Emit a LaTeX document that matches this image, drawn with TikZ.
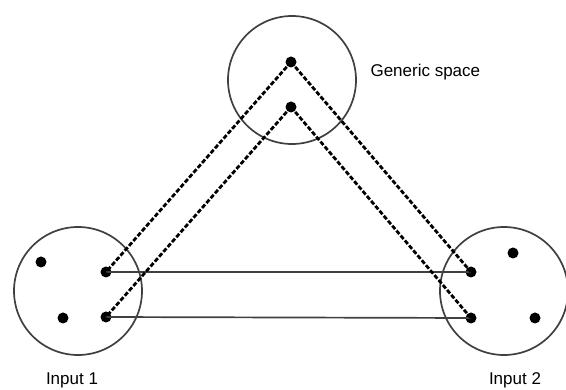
\documentclass[tikz,border=0pt]{standalone}
\usepackage{fontspec}
\setmainfont{Liberation Sans}
\usepackage{tikz}
\usetikzlibrary{positioning}

\begin{document}
\begin{tikzpicture}[x=1pt,y=-1pt,font=\fontsize{17}{19}\selectfont,
 sp/.style={draw=black!75,line width=1.7pt,circle,minimum size=128pt,inner sep=0pt},
 pt/.style={circle,fill=black,inner sep=0pt,minimum size=11pt},
 lk/.style={line width=2.8pt,dash pattern=on 4.5pt off 2pt},
 ln/.style={draw=black!75,line width=1.7pt}]
\useasboundingbox (0,0) rectangle (566,390);
\node[sp](g) at (292,80){};
\node[sp](a) at (78,291){};
\node[sp](b) at (504,291){};
\node[anchor=west](gl) at (367,72){Generic space};
\node (al) at (72,380) {Input 1};
\node (bl) at (515,380) {Input 2};
% points
\node[pt](g1) at (291,62){};\node[pt](g2) at (291,107){};
\node[pt](a1) at (41,262){};\node[pt](a2) at (106,272){};
\node[pt](a3) at (63,318){};\node[pt](a4) at (106,317){};
\node[pt](b1) at (513,253){};\node[pt](b2) at (471,272){};
\node[pt](b3) at (535,318){};\node[pt](b4) at (471,318){};
\draw[ln](a2.center)--(b2.center);\draw[ln](a4.center)--(b4.center);
\draw[lk](g1.center)--(a2.center);\draw[lk](g2.center)--(a4.center);
\draw[lk](g1.center)--(b2.center);\draw[lk](g2.center)--(b4.center);
\end{tikzpicture}
\end{document}
